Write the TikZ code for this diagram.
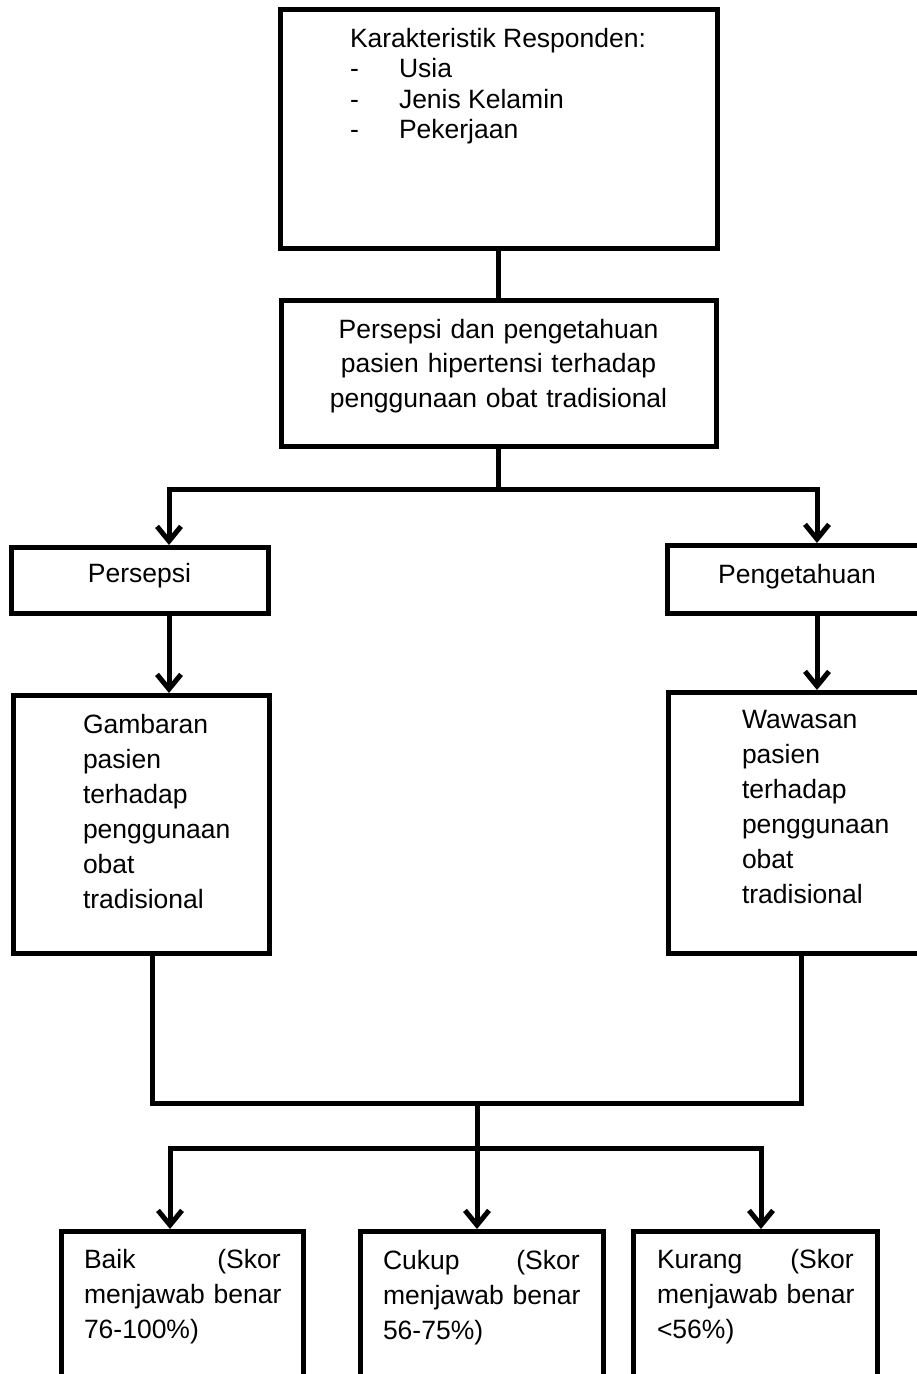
\documentclass[tikz,border=0pt]{standalone}
\usepackage{fontspec}
\setmainfont{Liberation Sans}
\usetikzlibrary{arrows.meta}
\tikzset{
  box/.style={draw=black, line width=3.75pt, rectangle, inner sep=0pt, outer sep=0pt, fill=white},
  conn/.style={draw=black, line width=3.75pt, line join=miter},
  arr/.style={conn, -{Straight Barb[length=11pt,width=18pt,line width=3.75pt]}, shorten >=1.5pt},
  txt/.style={inner sep=0pt, outer sep=0pt, font=\fontsize{19.875pt}{26.25pt}\selectfont},
}
\begin{document}
\begin{tikzpicture}[x=0.75pt, y=-0.75pt]
\useasboundingbox (0,0) rectangle (917,1374);
\clip (0,0) rectangle (917,1374);
% boxes
\node[box, minimum width=327.75pt, minimum height=179.25pt] (top) at (498.5,128.5) {};
\node[box, minimum width=326.25pt, minimum height=109.5pt] (mid) at (498.5,373) {};
\node[box, minimum width=192.75pt, minimum height=49.5pt] (persepsi) at (139.5,580) {};
\node[box, minimum width=195pt, minimum height=51pt] (peng) at (797,579) {};
\node[box, minimum width=192pt, minimum height=193.5pt] (gambaran) at (141,824) {};
\node[box, minimum width=194.25pt, minimum height=195.75pt] (wawasan) at (797.5,822.5) {};
\node[box, minimum width=181.5pt, minimum height=141.75pt] (baik) at (182,1325.5) {};
\node[box, minimum width=182.25pt, minimum height=141.75pt] (cukup) at (481.5,1325.5) {};
\node[box, minimum width=183pt, minimum height=141.75pt] (kurang) at (755,1325.5) {};
% texts
\node[txt, anchor=base west] (t0) at (350,47) {Karakteristik Responden:};
\node[txt, anchor=base west] (d1) at (350,77) {-};
\node[txt, anchor=base west] (t1) at (399,77) {Usia};
\node[txt, anchor=base west] (d2) at (350,108) {-};
\node[txt, anchor=base west] (t2) at (399,108) {Jenis Kelamin};
\node[txt, anchor=base west] (d3) at (350,138) {-};
\node[txt, anchor=base west] (t3) at (399,138) {Pekerjaan};
\node[txt, anchor=base, text width=300pt, align=center, font=\fontsize{19.875pt}{25.875pt}\selectfont] (tm) at (498.5,338) {Persepsi dan pengetahuan\\pasien hipertensi terhadap\\penggunaan obat tradisional};
\node[txt, anchor=base] (tp) at (139.5,582) {Persepsi};
\node[txt, anchor=base] (tq) at (797,583) {Pengetahuan};
\node[txt, anchor=base west, text width=140pt, align=left] (tg) at (83,733) {Gambaran\\pasien\\terhadap\\penggunaan\\obat\\tradisional};
\node[txt, anchor=base west, text width=140pt, align=left] (tw) at (742,728) {Wawasan\\pasien\\terhadap\\penggunaan\\obat\\tradisional};
\node[txt, anchor=base west, text width=147.5pt, align=left] (tb) at (84,1268) {Baik\hfill(Skor\\\mbox{menjawab benar}\\76-100\%)};
\node[txt, anchor=base west, text width=147.5pt, align=left] (tc) at (383,1269) {Cukup\hfill(Skor\\\mbox{menjawab benar}\\56-75\%)};
\node[txt, anchor=base west, text width=147.5pt, align=left] (tk) at (657,1268) {Kurang\hfill(Skor\\\mbox{menjawab benar}\\<56\%)};
% connectors
\coordinate (hl) at (169,489);
\coordinate (hr) at (817,489);
\coordinate (jl) at (152,1103);
\coordinate (jr) at (801,1103);
\coordinate (jm) at (477,1103);
\coordinate (bl) at (170,1148);
\coordinate (br) at (761,1148);
\draw[conn] (top.south) -- (mid.north);
\draw[conn] (mid.south) -- (mid.south |- hl);
\draw[arr] (mid.south |- hl) -- (hl) -- (hl |- persepsi.north);
\draw[arr] (mid.south |- hl) -- (hr) -- (hr |- peng.north);
\draw[arr] (persepsi.south -| hl) -- (gambaran.north -| hl);
\draw[arr] (peng.south -| hr) -- (wawasan.north -| hr);
\draw[conn] (gambaran.south -| jl) -- (jl) -- (jr) -- (wawasan.south -| jr);
\draw[arr] (jm) -- (jm |- cukup.north);
\draw[arr] (jm |- bl) -- (bl) -- (bl |- baik.north);
\draw[arr] (jm |- bl) -- (br) -- (br |- kurang.north);
\end{tikzpicture}
\end{document}
